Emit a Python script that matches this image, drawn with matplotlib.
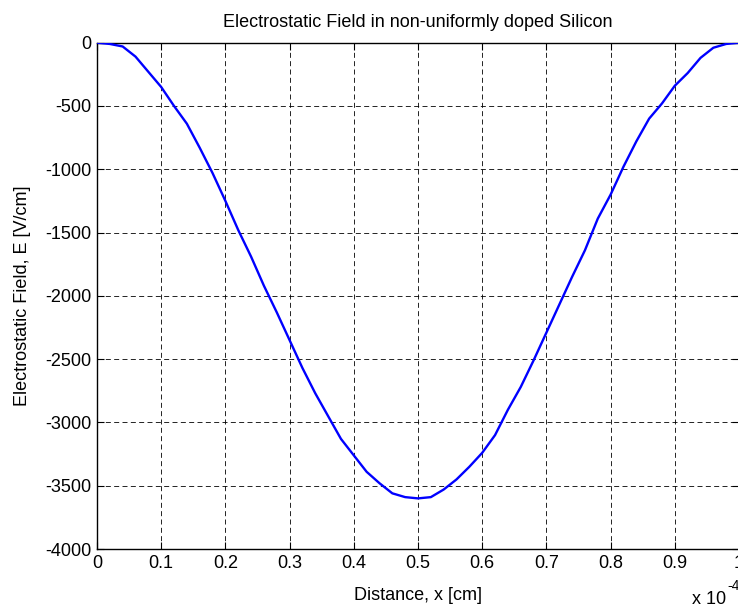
import matplotlib
matplotlib.use("Agg")
import matplotlib.pyplot as plt

# distance in units of 1e-4 cm
x_vals = [0.00, 0.02, 0.04, 0.06, 0.08, 0.10, 0.12, 0.14, 0.16, 0.18,
          0.20, 0.22, 0.24, 0.26, 0.28, 0.30, 0.32, 0.34, 0.36, 0.38,
          0.40, 0.42, 0.44, 0.46, 0.48, 0.50, 0.52, 0.54, 0.56, 0.58,
          0.60, 0.62, 0.64, 0.66, 0.68, 0.70, 0.72, 0.74, 0.76, 0.78,
          0.80, 0.82, 0.84, 0.86, 0.88, 0.90, 0.92, 0.94, 0.96, 0.98, 1.00]
# electrostatic field [V/cm]
e_vals = [0, -10, -30, -110, -230, -350, -500, -640, -830, -1030,
          -1250, -1480, -1690, -1920, -2130, -2350, -2570, -2770, -2950, -3130,
          -3260, -3390, -3480, -3560, -3590, -3600, -3590, -3530, -3450, -3350,
          -3240, -3100, -2900, -2720, -2510, -2290, -2070, -1850, -1640, -1390,
          -1200, -980, -780, -600, -480, -340, -240, -120, -40, -10, 0]

plt.rcParams.update({
    "font.family": ["Liberation Sans", "DejaVu Sans"],
    "font.size": 13,
    "axes.unicode_minus": False,
})

fig = plt.figure(figsize=(7.38, 6.08), dpi=100)
ax = fig.add_axes([0.1314, 0.097, 0.8700, 0.8328])

ax.plot(x_vals, e_vals, color="#0000ff", linewidth=1.7, zorder=3)

ax.set_xlim(0, 1)
ax.set_ylim(-4000, 0)
ax.set_xticks([0, 0.1, 0.2, 0.3, 0.4, 0.5, 0.6, 0.7, 0.8, 0.9, 1])
ax.set_xticklabels(["0", "0.1", "0.2", "0.3", "0.4", "0.5", "0.6", "0.7", "0.8", "0.9", "1"])
ax.set_yticks(range(-4000, 1, 500))

ax.grid(True, color="black", linestyle=(0, (6, 4)), linewidth=0.6)
ax.tick_params(direction="in", top=True, right=True, length=5, width=0.8,
               colors="black", labelsize=13, pad=4)
for s in ax.spines.values():
    s.set_linewidth(1.0)

ax.set_title("Electrostatic Field in non-uniformly doped Silicon", fontsize=13, pad=11)
ax.set_xlabel("Distance, x [cm]", fontsize=13, labelpad=11)
ax.set_ylabel("Electrostatic Field, E [V/cm]", fontsize=13, labelpad=10)

# MATLAB-style exponent label at the bottom right
fig.text(692 / 738, 1 - 604 / 608, "x 10", fontsize=13, ha="left", va="baseline")
fig.text(727 / 738, 1 - 590 / 608, "-4", fontsize=10, ha="left", va="baseline")

plt.savefig("out.png", dpi=100)
plt.close()
